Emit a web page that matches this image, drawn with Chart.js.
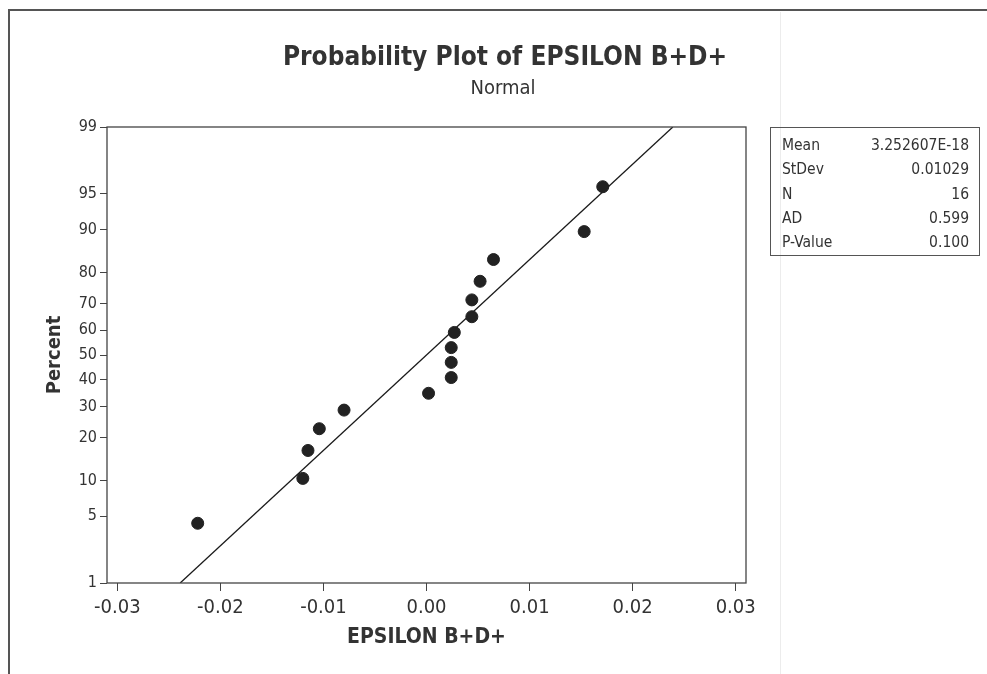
<!DOCTYPE html>
<html>
<head>
<meta charset="utf-8">
<title>Probability Plot of EPSILON B+D+</title>
<script src="https://cdn.jsdelivr.net/npm/chart.js@4.4.1/dist/chart.umd.min.js"></script>
<style>
    body { margin: 0; background: #ffffff; }
    #wrap { width: 987px; height: 674px; }
</style>
</head>
<body>
<div id="wrap"><canvas id="probChart" width="987" height="674"></canvas></div>
<script>
// Data
const xValues = [-0.0222, -0.0120, -0.0115, -0.0104, -0.0080, 0.0002, 0.0024, 0.0024,
                 0.0024, 0.0027, 0.0044, 0.0044, 0.0052, 0.0065, 0.0153, 0.0171];
const percentValues = [4.3, 10.4, 16.5, 22.6, 28.7, 34.8, 40.9, 47.0,
                       53.0, 59.1, 65.2, 71.3, 77.4, 83.5, 89.6, 95.7];

// fitted line end points (x, percent)
const fitX = [-0.0239, 0.0239];
const fitPercent = [1, 99];

const xTicks = [-0.03, -0.02, -0.01, 0.00, 0.01, 0.02, 0.03];
const yTicks = [1, 5, 10, 20, 30, 40, 50, 60, 70, 80, 90, 95, 99];

const statLabels = ['Mean', 'StDev', 'N', 'AD', 'P-Value'];
const statValues = ['3.252607E-18', '0.01029', '16', '0.599', '0.100'];

const FONT = "'DejaVu Sans Condensed', 'DejaVu Sans', sans-serif";
const INK = '#333333';

// inverse of the standard normal cdf (Acklam) - used for the probability axis
function probit(p) {
    const a = [-39.69683028665376, 220.9460984245205, -275.9285104469687, 138.3577518672690, -30.66479806614716, 2.506628277459239];
    const b = [-54.47609879822406, 161.5858368580409, -155.6989798598866, 66.80131188771972, -13.28068155288572];
    const c = [-0.007784894002430293, -0.3223964580411365, -2.400758277161838, -2.549732539343734, 4.374664141464968, 2.938163982698783];
    const d = [0.007784695709041462, 0.3224671290700398, 2.445134137142996, 3.754408661907416];
    const plow = 0.02425, phigh = 1 - plow;
    let q, r;
    if (p < plow) {
        q = Math.sqrt(-2 * Math.log(p));
        return (((((c[0]*q+c[1])*q+c[2])*q+c[3])*q+c[4])*q+c[5]) / ((((d[0]*q+d[1])*q+d[2])*q+d[3])*q+1);
    }
    if (p > phigh) {
        q = Math.sqrt(-2 * Math.log(1 - p));
        return -(((((c[0]*q+c[1])*q+c[2])*q+c[3])*q+c[4])*q+c[5]) / ((((d[0]*q+d[1])*q+d[2])*q+d[3])*q+1);
    }
    q = p - 0.5;
    r = q * q;
    return (((((a[0]*r+a[1])*r+a[2])*r+a[3])*r+a[4])*r+a[5])*q / (((((b[0]*r+b[1])*r+b[2])*r+b[3])*r+b[4])*r+1);
}

const points = xValues.map((x, i) => ({ x: x, y: probit(percentValues[i] / 100) }));
const fitLine = fitX.map((x, i) => ({ x: x, y: probit(fitPercent[i] / 100) }));

// frame, title, subtitle and stats box
const decorations = {
    id: 'decorations',
    beforeDraw(chart) {
        const ctx = chart.ctx;
        ctx.save();
        ctx.fillStyle = '#ffffff';
        ctx.fillRect(0, 0, chart.width, chart.height);
        // faint scan line
        ctx.strokeStyle = '#ececec';
        ctx.lineWidth = 1;
        ctx.beginPath();
        ctx.moveTo(780.5, 12);
        ctx.lineTo(780.5, 674);
        ctx.stroke();
        // outer frame
        ctx.strokeStyle = '#555555';
        ctx.lineWidth = 2;
        ctx.beginPath();
        ctx.moveTo(9, 674);
        ctx.lineTo(9, 10);
        ctx.lineTo(987, 10);
        ctx.stroke();
        ctx.restore();
    },
    afterDraw(chart) {
        const ctx = chart.ctx;
        const area = chart.chartArea;
        ctx.save();
        // plot frame
        ctx.strokeStyle = '#444444';
        ctx.lineWidth = 1.3;
        ctx.strokeRect(area.left, area.top, area.right - area.left, area.bottom - area.top);

        // titles
        ctx.fillStyle = INK;
        ctx.textAlign = 'center';
        ctx.textBaseline = 'middle';
        ctx.font = 'bold 26px ' + FONT;
        ctx.fillText('Probability Plot of EPSILON B+D+', 505, 58);
        ctx.font = '20px ' + FONT;
        ctx.fillText('Normal', 503, 89);

        // stats box
        ctx.strokeStyle = '#555555';
        ctx.lineWidth = 1;
        ctx.strokeRect(770.5, 127.5, 209, 128);
        ctx.font = '15.5px ' + FONT;
        statLabels.forEach((lab, i) => {
            const y = 146 + i * 24.3;
            ctx.textAlign = 'left';
            ctx.fillText(lab, 782, y);
            ctx.textAlign = 'right';
            ctx.fillText(statValues[i], 969, y);
        });
        ctx.restore();
    }
};

const ctx = document.getElementById('probChart').getContext('2d');
const probChart = new Chart(ctx, {
    type: 'scatter',
    data: {
        datasets: [{
            label: 'EPSILON B+D+',
            data: points,
            backgroundColor: '#222222',
            borderColor: '#222222',
            pointRadius: 6,
            pointHoverRadius: 6
        }, {
            label: 'Fit',
            data: fitLine,
            showLine: true,
            borderColor: '#1a1a1a',
            borderWidth: 1.3,
            pointRadius: 0,
            fill: false
        }]
    },
    options: {
        responsive: false,
        animation: false,
        layout: {
            padding: { top: 127, right: 241, bottom: 0, left: 0 }
        },
        plugins: {
            legend: { display: false },
            tooltip: { enabled: false }
        },
        scales: {
            x: {
                type: 'linear',
                min: -0.031,
                max: 0.031,
                afterBuildTicks: (scale) => {
                    scale.ticks = xTicks.map(v => ({ value: v }));
                },
                afterFit: (scale) => { scale.height = 91; },
                ticks: {
                    color: INK,
                    font: { family: FONT, size: 20 },
                    padding: 5,
                    maxRotation: 0,
                    callback: (v) => v.toFixed(2)
                },
                grid: {
                    drawOnChartArea: false,
                    drawTicks: true,
                    tickLength: 8,
                    color: '#444444'
                },
                border: { display: false },
                title: {
                    display: true,
                    text: 'EPSILON B+D+',
                    color: INK,
                    font: { family: FONT, size: 21, weight: 'bold' },
                    padding: { top: 0, bottom: 24 }
                }
            },
            y: {
                type: 'linear',
                min: probit(0.01),
                max: probit(0.99),
                afterBuildTicks: (scale) => {
                    scale.ticks = yTicks.map(p => ({ value: probit(p / 100) }));
                },
                afterFit: (scale) => { scale.width = 107; },
                ticks: {
                    color: INK,
                    font: { family: FONT, size: 16 },
                    padding: 3,
                    callback: (v, i) => String(yTicks[i])
                },
                grid: {
                    drawOnChartArea: false,
                    drawTicks: true,
                    tickLength: 7,
                    color: '#444444'
                },
                border: { display: false },
                title: {
                    display: true,
                    text: 'Percent',
                    color: INK,
                    font: { family: FONT, size: 20, weight: 'bold' },
                    padding: { top: 43, bottom: 0 }
                }
            }
        }
    },
    plugins: [decorations]
});
</script>
</body>
</html>
